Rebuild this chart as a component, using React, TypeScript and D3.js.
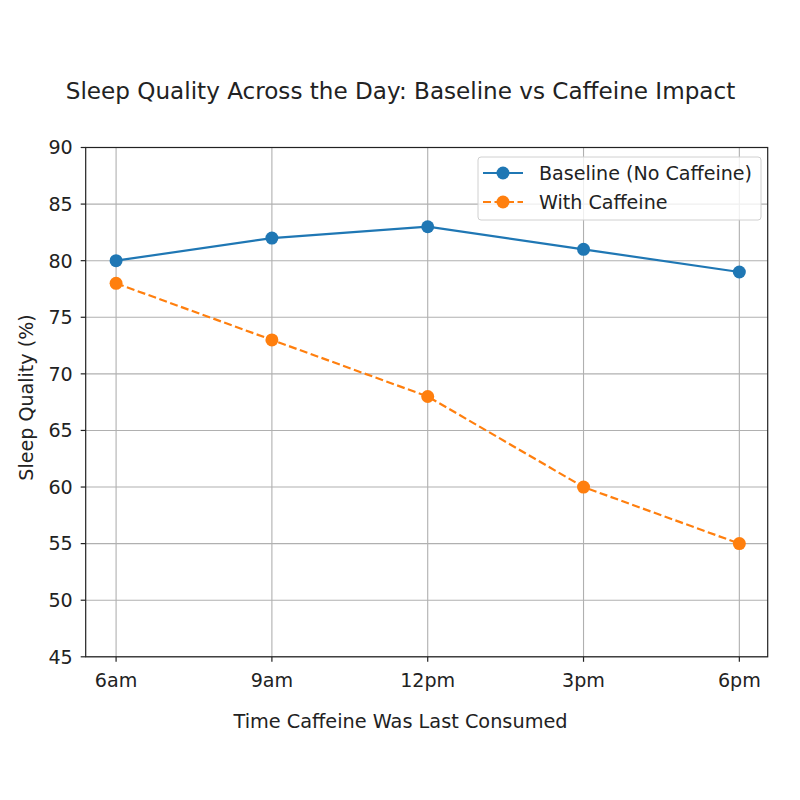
import React from "react";
import * as d3 from "d3";

const categories = ["6am", "9am", "12pm", "3pm", "6pm"];
const baseline = [80, 82, 83, 81, 79];
const caffeine = [78, 73, 68, 60, 55];
const yTicks = [45, 50, 55, 60, 65, 70, 75, 80, 85, 90];

const W = 800, H = 800;
const L = 85.7, R = 767.7, T = 147.5, B = 656.8;
const FONT = "DejaVu Sans, sans-serif";
const FS = 19.1;

export default function App() {
  const x = d3.scaleLinear().domain([-0.195, categories.length - 1 + 0.182]).range([L, R]);
  const y = d3.scaleLinear().domain([45, 90]).range([B, T]);
  const line = d3.line<number>().x((_, i) => x(i)).y(d => y(d));
  const blue = "#1f77b4", orange = "#ff7f0e";
  return (
    <svg width={W} height={H} style={{ display: "block", margin: -8 }} fontFamily={FONT}>
      <rect width={W} height={H} fill="#fff" />
      <text x={400.5} y={99} textAnchor="middle" fontSize={23.1} fill="#222">
        Sleep Quality Across the Day: Baseline vs Caffeine Impact
      </text>
      {/* grid */}
      {categories.map((_, i) => (
        <line key={"gx" + i} x1={x(i)} x2={x(i)} y1={T} y2={B} stroke="#b0b0b0" strokeWidth={1.1} />
      ))}
      {yTicks.map(t => (
        <line key={"gy" + t} x1={L} x2={R} y1={y(t)} y2={y(t)} stroke="#b0b0b0" strokeWidth={1.1} />
      ))}
      {/* lines */}
      <path d={line(baseline) || ""} fill="none" stroke={blue} strokeWidth={2.2} />
      <path d={line(caffeine) || ""} fill="none" stroke={orange} strokeWidth={2.2} strokeDasharray="8,3.5" />
      {baseline.map((v, i) => (
        <circle key={"b" + i} cx={x(i)} cy={y(v)} r={6.5} fill={blue} />
      ))}
      {caffeine.map((v, i) => (
        <circle key={"c" + i} cx={x(i)} cy={y(v)} r={6.5} fill={orange} />
      ))}
      {/* axes frame */}
      <rect x={L} y={T} width={R - L} height={B - T} fill="none" stroke="#222" strokeWidth={1.2} />
      {yTicks.map(t => (
        <g key={"yt" + t}>
          <line x1={L - 5} x2={L} y1={y(t)} y2={y(t)} stroke="#222" strokeWidth={1.2} />
          <text x={L - 13} y={y(t)} dy="0.36em" textAnchor="end" fontSize={FS} fill="#222">{t}</text>
        </g>
      ))}
      {categories.map((c, i) => (
        <g key={"xt" + i}>
          <line x1={x(i)} x2={x(i)} y1={B} y2={B + 5} stroke="#222" strokeWidth={1.2} />
          <text x={x(i)} y={687} textAnchor="middle" fontSize={FS} fill="#222">{c}</text>
        </g>
      ))}
      <text x={400.5} y={728} textAnchor="middle" fontSize={FS * 1.01} fill="#222">Time Caffeine Was Last Consumed</text>
      <text transform={`translate(33,397.5) rotate(-90)`} textAnchor="middle" fontSize={FS} fill="#222">Sleep Quality (%)</text>
      {/* legend */}
      <g>
        <rect x={478} y={157} width={283} height={63} rx={3} fill="#fff" fillOpacity={0.8} stroke="#d0d0d0" strokeWidth={1} />
        <line x1={483} x2={523} y1={173} y2={173} stroke={blue} strokeWidth={2.2} />
        <circle cx={503} cy={173} r={6.5} fill={blue} />
        <text x={539} y={173} dy="0.36em" fontSize={FS} fill="#222">Baseline (No Caffeine)</text>
        <line x1={483} x2={523} y1={202} y2={202} stroke={orange} strokeWidth={2.2} strokeDasharray="8,3.5" />
        <circle cx={503} cy={202} r={6.5} fill={orange} />
        <text x={539} y={202} dy="0.36em" fontSize={FS} fill="#222">With Caffeine</text>
      </g>
    </svg>
  );
}
